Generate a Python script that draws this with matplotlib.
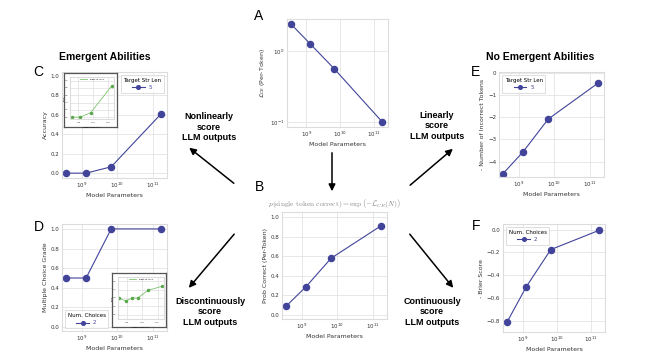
import numpy as np
import matplotlib
matplotlib.use('Agg')
import matplotlib.pyplot as plt
from matplotlib import ticker
from matplotlib.lines import Line2D
from matplotlib.patches import FancyArrowPatch

W, H = 668, 358

# model sizes (params)
params = [3.5e8, 1.3e9, 6.7e9, 1.75e11]

# panel values
loss_ce = [2.4, 1.26, 0.56, 0.10]
prob_correct = [0.09, 0.29, 0.58, 0.91]
accuracy = [0.0, 0.0, 0.065, 0.61]
neg_incorrect = [-4.55, -3.56, -2.08, -0.45]
mc_grade = [0.5, 0.5, 1.0, 1.0]
neg_brier = [-0.815, -0.50, -0.175, -0.005]

# inset values
inset_c_params = params
inset_c_vals = [0.0, 0.0, 0.12, 0.85]
inset_d_params = [3.2e8, 8.5e8, 2.3e9, 5.1e9, 2.3e10, 1.95e11]
inset_d_vals = [0.30, 0.265, 0.30, 0.30, 0.39, 0.44]

LINE = '#42449a'
GREEN = '#7cc46e'
XLIM = (10 ** 8.43, 10 ** 11.41)

fig = plt.figure(figsize=(W / 100, H / 100), dpi=100)


def px_axes(x0, y0, x1, y1):
    return fig.add_axes([x0 / W, 1 - y1 / H, (x1 - x0) / W, (y1 - y0) / H])


def style(ax, fs=4):
    ax.set_facecolor('white')
    ax.grid(True, color='#e4e4e4', lw=0.6)
    ax.set_axisbelow(True)
    for s in ax.spines.values():
        s.set_color('#dcdcdc')
        s.set_linewidth(0.8)
    ax.tick_params(length=0, labelsize=fs, pad=2, colors='#333333')
    ax.tick_params(which='minor', length=0)


def log_x(ax):
    ax.set_xscale('log')
    ax.set_xlim(*XLIM)
    ax.xaxis.set_major_locator(ticker.FixedLocator([1e9, 1e10, 1e11]))
    ax.xaxis.set_minor_locator(ticker.NullLocator())


def main_panel(box, y, ylim, yticks, ylabel):
    ax = px_axes(*box)
    style(ax)
    ax.plot(params, y, '-o', color=LINE, lw=0.8, ms=4.4)
    log_x(ax)
    if ylim is not None:
        ax.set_ylim(*ylim)
    if yticks is not None:
        ax.set_yticks(yticks)
    ax.set_xlabel('Model Parameters', fontsize=4.5, labelpad=2, color='#333333')
    ax.set_ylabel(ylabel, fontsize=4.5, labelpad=2, color='#333333')
    return ax


def add_legend(ax, title, label, loc):
    leg = ax.legend([label], title=title, loc=loc, fontsize=4, title_fontsize=4,
                    labelcolor=LINE, frameon=True, handlelength=2.2,
                    markerscale=0.6, borderpad=0.5, edgecolor='#d0d0d0',
                    fancybox=False)
    leg.get_frame().set_linewidth(0.6)


def inset(frame, inner, x, y, ylim, yticks):
    fr = px_axes(*frame)
    fr.set_xticks([])
    fr.set_yticks([])
    for s in fr.spines.values():
        s.set_color('#555555')
        s.set_linewidth(0.9)
    ax = px_axes(*inner)
    style(ax, fs=1.4)
    ax.plot(x, y, '-o', color=GREEN, lw=0.6, ms=1.5, mfc='#5aa84c', mec='#5aa84c')
    log_x(ax)
    ax.set_ylim(*ylim)
    ax.set_yticks(yticks)
    ax.tick_params(pad=1, labelsize=1.6)
    ax.set_xlabel('Model Parameters', fontsize=1.4, labelpad=0.5)
    ax.set_ylabel('Score', fontsize=1.4, labelpad=0.5)
    ax.legend([Line2D([], [], color=GREEN, lw=0.6)], ['Target Str Len 5'],
              loc='upper center', fontsize=1.4, frameon=False, handlelength=4)
    return ax


# A: per-token cross entropy
axA = main_panel((287, 19, 388, 127), loss_ce, None, None,
                 r'$\mathcal{L}_{CE}$ (Per-Token)')
axA.set_yscale('log')
axA.set_ylim(10 ** -1.07, 10 ** 0.45)
axA.yaxis.set_major_locator(ticker.FixedLocator([0.1, 1.0]))
axA.yaxis.set_minor_locator(ticker.NullLocator())

# B: per-token prob correct
axB = main_panel((282, 212, 387, 319), prob_correct, (-0.04, 1.05),
                 [0, 0.2, 0.4, 0.6, 0.8, 1.0], 'Prob Correct (Per-Token)')
axB.set_title(r'$p(\mathrm{single\ token\ correct}) = \exp\left(-\mathcal{L}_{CE}(N)\right)$',
              fontsize=5.4, color='#888888', pad=4, math_fontfamily='cm')

# C: accuracy
axC = main_panel((62, 72, 167, 178), accuracy, (-0.05, 1.04),
                 [0, 0.2, 0.4, 0.6, 0.8, 1.0], 'Accuracy')
add_legend(axC, 'Target Str Len', '5', 'upper right')

# D: multiple choice grade
axD = main_panel((62, 224, 167, 331), mc_grade, (-0.04, 1.05),
                 [0, 0.2, 0.4, 0.6, 0.8, 1.0], 'Multiple Choice Grade')
add_legend(axD, 'Num. Choices', '2', 'lower left')

# E: token edit distance
axE = main_panel((499, 72, 604, 177), neg_incorrect, (-4.7, 0.05),
                 [-4, -3, -2, -1, 0], '- Number of Incorrect Tokens')
add_legend(axE, 'Target Str Len', '5', 'upper left')

# F: brier score
axF = main_panel((503, 224, 605, 332), neg_brier, (-0.90, 0.05),
                 [-0.8, -0.6, -0.4, -0.2, 0.0], '- Brier Score')
add_legend(axF, 'Num. Choices', '2', 'upper left')

# insets
inset((64, 73, 117, 127), (70, 77, 114, 119), inset_c_params, inset_c_vals,
      (-0.05, 1.1), [0, 0.2, 0.4, 0.6, 0.8, 1.0])
inset((112, 273, 166, 327), (118, 277, 164, 319), inset_d_params, inset_d_vals,
      (0.05, 0.55), [0.1, 0.2, 0.3, 0.4, 0.5])

# headings, letters, annotations
font = 'Liberation Sans'


def ftext(x, y, s, **kw):
    fig.text(x / W, 1 - y / H, s, family=font, **kw)


ftext(105, 57, 'Emergent Abilities', fontsize=7.5, weight='bold', ha='center', va='center')
ftext(540, 57, 'No Emergent Abilities', fontsize=7.5, weight='bold', ha='center', va='center')

for letter, (lx, ly) in {'A': (259, 16), 'B': (259, 187), 'C': (38, 72),
                         'D': (39, 227), 'E': (476, 72), 'F': (476, 226)}.items():
    ftext(lx, ly, letter, fontsize=10, ha='center', va='center')

notes = [
    (209, 127, 'Nonlinearly\nscore\nLLM outputs'),
    (437, 126, 'Linearly\nscore\nLLM outputs'),
    (210, 312, 'Discontinuously\nscore\nLLM outputs'),
    (432, 312, 'Continuously\nscore\nLLM outputs'),
]
for nx, ny, s in notes:
    ftext(nx, ny, s, fontsize=6.5, weight='bold', ha='center', va='center',
          linespacing=1.25)

arrows = [
    ((236, 185), (187, 146)),
    ((408, 187), (455, 147)),
    ((332, 150), (332, 194)),
    ((236, 232), (187, 290)),
    ((408, 232), (455, 290)),
]
for (x0, y0), (x1, y1) in arrows:
    arr = FancyArrowPatch((x0 / W, 1 - y0 / H), (x1 / W, 1 - y1 / H),
                          transform=fig.transFigure, arrowstyle='-|>',
                          mutation_scale=10, lw=1.1, color='black')
    fig.patches.append(arr)

fig.savefig('out.png', dpi=100)
